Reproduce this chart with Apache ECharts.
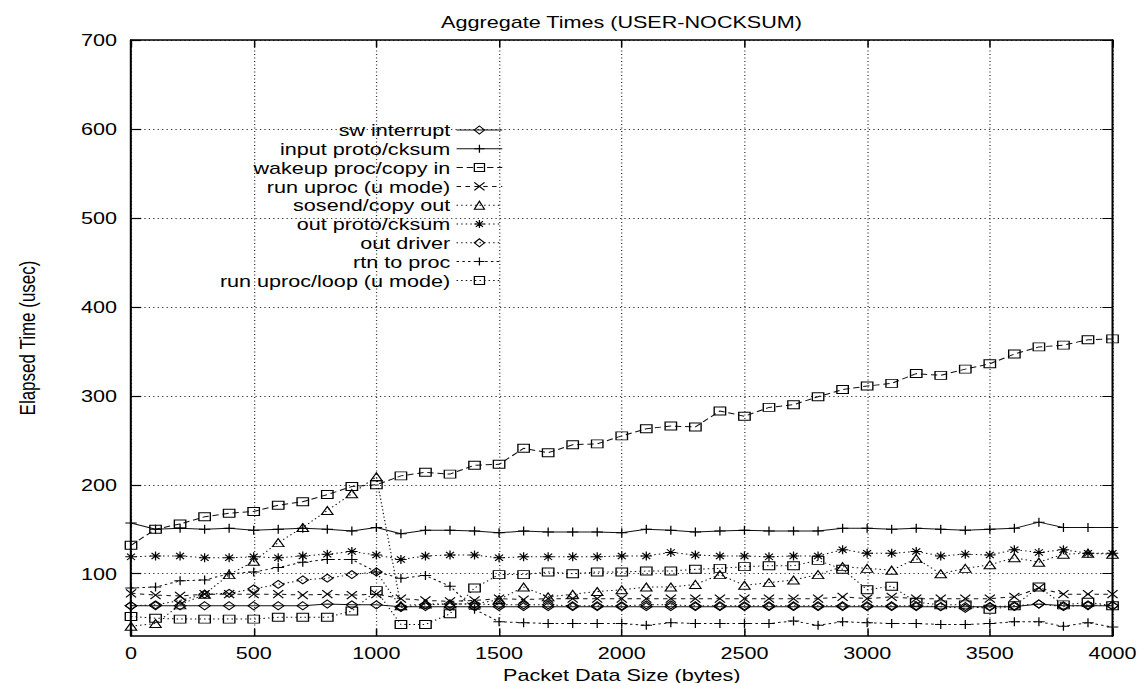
<!DOCTYPE html>
<html><head><meta charset="utf-8">
<script src="https://cdn.jsdelivr.net/npm/echarts@6/dist/echarts.min.js"></script>
<style>
html,body{margin:0;padding:0;background:#fff;overflow:hidden;width:1139px;height:683px}
#c{position:absolute;left:0;top:0;width:897px;height:683px;transform:scaleX(1.27);transform-origin:0 0}
</style>
</head><body><div id="c"></div>
<script>
// ---- data (x = packet data size in bytes, y = elapsed time in usec) ----
const packetSizes = [0,100,200,300,400,500,600,700,800,900,1000,1100,1200,1300,1400,1500,1600,1700,1800,1900,2000,
  2100,2200,2300,2400,2500,2600,2700,2800,2900,3000,3100,3200,3300,3400,3500,3600,3700,3800,3900,4000];
const xTicks = [0,500,1000,1500,2000,2500,3000,3500,4000];
const yTicks = [100,200,300,400,500,600,700];

const swInterrupt = [64,64,64,64,64,64,64,64,66,65,65,63,63,63,63,63,63,63,63,63,63,
  63,63,63,63,63,63,63,63,63,63,63,63,63,63,63,63,66,64,64,64];
const inputProto = [157,150,151,150,151,149,150,151,150,148,152,145,149,149,148,146,148,147,147,147,146,
  150,149,147,148,149,148,148,148,151,151,150,151,150,149,150,151,158,152,152,152];
const wakeupProc = [132,150,156,164,168,170,177,181,189,198,200,210,214,212,222,223,241,236,245,246,255,
  263,266,265,283,277,287,290,299,307,311,314,325,323,330,336,347,355,357,363,364];
const runUproc = [78,76,75,77,77,77,77,76,77,76,77,72,70,69,70,72,71,72,72,72,72,
  72,72,72,72,72,72,72,72,74,72,74,72,72,72,72,74,84,77,77,77];
const sosendCopy = [41,44,65,77,99,114,135,152,171,190,209,64,66,66,66,71,85,74,77,80,82,
  85,85,88,99,87,90,93,99,108,106,104,117,100,106,110,118,113,122,123,122];
const outProto = [119,120,120,118,118,119,118,120,122,125,121,116,120,121,121,118,119,119,119,119,120,
  120,124,121,120,120,119,120,120,127,123,123,125,120,122,121,127,124,127,123,123];
const outDriver = [64,65,70,77,78,83,88,93,95,99,102,62,65,66,66,65,65,65,64,64,64,
  65,65,64,64,64,64,64,64,64,64,64,64,63,61,63,64,66,63,65,64];
const rtnProc = [84,85,92,93,100,102,107,113,116,116,102,95,98,86,60,46,45,44,44,44,44,
  42,45,44,44,44,44,47,42,46,45,44,44,43,43,44,46,46,41,45,40];
const runUprocLoop = [52,50,49,49,49,49,51,51,51,58,81,43,43,55,84,99,99,102,100,102,102,
  103,103,105,106,108,109,109,115,105,82,86,68,65,65,60,64,85,65,68,64];

const seriesNames = ['sw interrupt','input proto/cksum','wakeup proc/copy in','run uproc (u mode)',
  'sosend/copy out','out proto/cksum','out driver','rtn to proc','run uproc/loop (u mode)'];
const seriesValues = [swInterrupt,inputProto,wakeupProc,runUproc,sosendCopy,outProto,outDriver,rtnProc,runUprocLoop];

// ---- styles ----
const FONT = 'Liberation Sans, Arial, Helvetica, sans-serif';
const PLUS = 'path://M0,5L10,5M5,0L5,10';
const CROSS = 'path://M0,0L10,10M10,0L0,10';
const STAR = 'path://M0,5L10,5M5,0L5,10M1.5,1.5L8.5,8.5M8.5,1.5L1.5,8.5';
const DOT = [1.2, 2.4];
const styles = [
  {symbol:'diamond', size:[9,8], dash:'solid'},
  {symbol:PLUS, size:9, dash:'solid'},
  {symbol:'rect', size:[9,8], dash:[5,3]},
  {symbol:CROSS, size:8, dash:[3.5,3.5]},
  {symbol:'triangle', size:[9,8], dash:DOT},
  {symbol:STAR, size:9, dash:DOT},
  {symbol:'diamond', size:[9,8], dash:DOT},
  {symbol:PLUS, size:9, dash:[2,2.5]},
  {symbol:'rect', size:[9,8], dash:DOT}
];

const series = seriesNames.map((name, k) => ({
  name, type:'line',
  data: packetSizes.map((x, i) => [x, seriesValues[k][i]]),
  symbol: styles[k].symbol, symbolSize: styles[k].size, showSymbol:true,
  itemStyle:{color:'rgba(0,0,0,0)', borderColor:'#000', borderWidth:1},
  lineStyle:{color:'#111', width:1, type:styles[k].dash},
  emphasis:{disabled:true}, animation:false, z: 3
}));

const legendTop0 = 121.5, legendStep = 18.8;
const legends = seriesNames.map((name, k) => ({
  data:[name], orient:'horizontal', align:'right', right:501, top: legendTop0 + k*legendStep,
  padding:0, itemWidth:36, itemHeight:10, selectedMode:false,
  itemStyle:{color:'rgba(0,0,0,0)', borderColor:'#000', borderWidth:1},
  lineStyle:{width:1, color:'#111'},
  textStyle:{fontFamily:FONT, fontSize:17, color:'#000'}
}));

const gridLine = {show:true, lineStyle:{color:'#333', width:1, type:[1,2.5]}};
const axisLine = {show:true, onZero:false, lineStyle:{color:'#000', width:1.6}};

const chart = echarts.init(document.getElementById('c'), null, {renderer:'svg'});
chart.setOption({
  backgroundColor:'#fff',
  animation:false,
  title:{text:'Aggregate Times (USER-NOCKSUM)', left:484.4, top:8, textAlign:'center',
    textStyle:{fontFamily:FONT, fontSize:17, fontWeight:'normal', color:'#000'}},
  legend: legends,
  grid:{left:103.15, right:21, top:40, bottom:47, containLabel:false, outerBoundsMode:'none'},
  xAxis:[{
    type:'value', min:0, max:4000, interval:500, position:'bottom',
    name:'Packet Data Size (bytes)', nameLocation:'middle', nameGap:26,
    nameTextStyle:{fontFamily:FONT, fontSize:17, color:'#000'},
    axisLine, axisTick:{show:true, inside:true, length:7, lineStyle:{color:'#000', width:1.2}},
    axisLabel:{fontFamily:FONT, fontSize:17, color:'#000', margin:8, formatter:(v) => String(v)},
    splitLine:gridLine
  },{
    type:'value', min:0, max:4000, interval:500, position:'top',
    axisLine, axisTick:{show:true, inside:true, length:7, lineStyle:{color:'#000', width:1.2}},
    axisLabel:{show:false}, splitLine:{show:false}
  }],
  yAxis:[{
    type:'value', min:30, max:700, position:'left',
    name:'Elapsed Time (usec)', nameLocation:'middle', nameGap:73,
    nameTextStyle:{fontFamily:FONT, fontSize:17, color:'#000'},
    axisLine,
    axisTick:{show:true, inside:true, length:8, customValues:yTicks, lineStyle:{color:'#000', width:1.2}},
    axisLabel:{fontFamily:FONT, fontSize:17, color:'#000', margin:11, customValues:yTicks, formatter:(v) => String(v)},
    splitLine:gridLine
  },{
    type:'value', min:30, max:700, position:'right',
    axisLine,
    axisTick:{show:true, inside:true, length:8, customValues:yTicks, lineStyle:{color:'#000', width:1.2}},
    axisLabel:{show:false, customValues:yTicks}, splitLine:{show:false}
  }],
  series
});
</script>
</body></html>
